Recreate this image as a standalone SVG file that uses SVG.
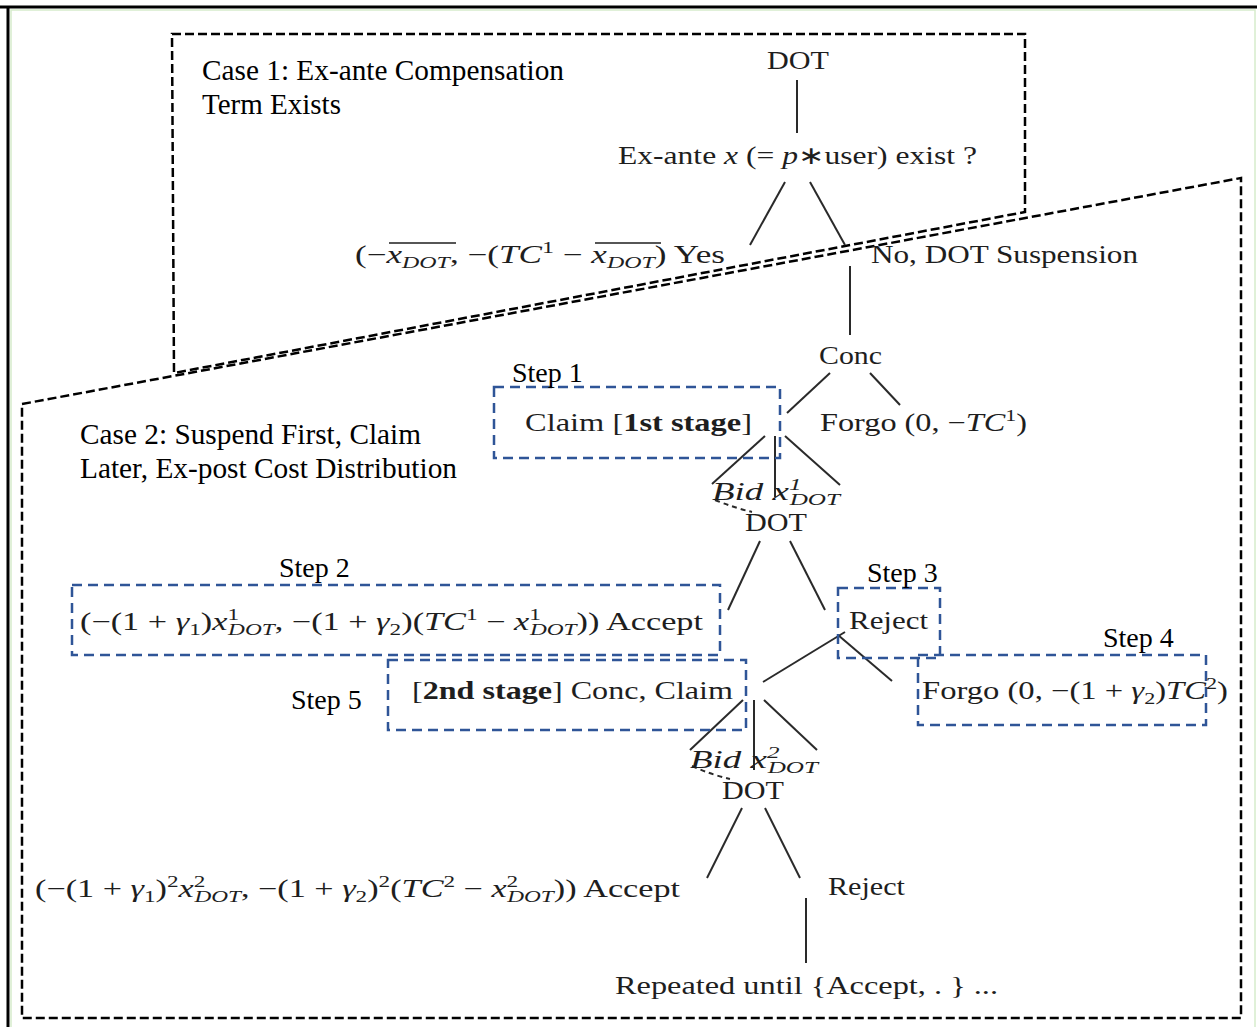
<svg xmlns="http://www.w3.org/2000/svg" width="1257" height="1027" viewBox="0 0 1257 1027">
<style>
.m{font-family:"Liberation Serif","Times New Roman",serif;font-size:25px;fill:#1e1e1e}
.it{font-style:italic}
.b{font-weight:bold}
.sub{font-size:17px}
.lbl{font-family:"Liberation Serif","Times New Roman",serif;font-size:28px;fill:#000}
.cl{font-size:29px}
.edge{stroke:#2a2a2a;stroke-width:2;fill:none}
.case{stroke:#000;stroke-width:2.5;fill:none;stroke-dasharray:9 4}
.step{stroke:#2f5597;stroke-width:2.5;fill:none;stroke-dasharray:10 6}
</style>
<rect x="0" y="0" width="1257" height="1027" fill="#fff"/>
<rect x="11" y="10" width="1244" height="1020" fill="none" stroke="#d6eccb" stroke-width="1.5"/>
<line x1="0" y1="7" x2="1257" y2="7" stroke="#000" stroke-width="3"/>
<line x1="8" y1="7" x2="8" y2="1027" stroke="#000" stroke-width="3"/>

<g id="case1">
<polygon class="case" points="172,34 1025,34 1025,212 174,373"/>
<text class="lbl cl" x="202" y="80" textLength="362" lengthAdjust="spacingAndGlyphs">Case 1: Ex-ante Compensation</text>
<text class="lbl cl" x="202" y="114">Term Exists</text>
</g>
<g id="case2">
<polygon class="case" points="22,404 1241,178 1241,1018 22,1018"/>
<text class="lbl cl" x="80" y="444" textLength="341" lengthAdjust="spacingAndGlyphs">Case 2: Suspend First, Claim</text>
<text class="lbl cl" x="80" y="478" textLength="377" lengthAdjust="spacingAndGlyphs">Later, Ex-post Cost Distribution</text>
</g>

<g id="connectors">
<line class="edge" x1="797" y1="80" x2="797" y2="133"/>
<line class="edge" x1="785" y1="182" x2="750" y2="245"/>
<line class="edge" x1="810" y1="182" x2="845" y2="245"/>
<line class="edge" x1="850" y1="266" x2="850" y2="335"/>
<line class="edge" x1="830" y1="373" x2="787" y2="413"/>
<line class="edge" x1="870" y1="373" x2="900" y2="405"/>
<line class="edge" x1="765" y1="436" x2="712" y2="484"/>
<line class="edge" x1="775" y1="436" x2="775" y2="497"/>
<line class="edge" x1="785" y1="436" x2="840" y2="485"/>
<path class="edge" d="M715,500 Q735,508 752,512" stroke-dasharray="5 4" stroke-width="1.5"/>
<line class="edge" x1="760" y1="541" x2="728" y2="610"/>
<line class="edge" x1="790" y1="541" x2="825" y2="610"/>
<line class="edge" x1="845" y1="632" x2="763" y2="682"/>
<line class="edge" x1="838" y1="635" x2="892" y2="681"/>
<line class="edge" x1="743" y1="700" x2="690" y2="750"/>
<line class="edge" x1="754" y1="700" x2="754" y2="770"/>
<line class="edge" x1="764" y1="700" x2="817" y2="750"/>
<path class="edge" d="M692,766 Q712,775 730,779" stroke-dasharray="5 4" stroke-width="1.5"/>
<line class="edge" x1="742" y1="808" x2="707" y2="878"/>
<line class="edge" x1="765" y1="808" x2="800" y2="878"/>
<line class="edge" x1="806" y1="898" x2="806" y2="963"/>
</g>

<g id="n-dot1"><text class="m" x="767" y="69" textLength="62" lengthAdjust="spacingAndGlyphs">DOT</text></g>
<g id="n-exante"><text class="m" x="618" y="164" textLength="359" lengthAdjust="spacingAndGlyphs">Ex-ante <tspan class="it">x</tspan> (= <tspan class="it">p</tspan>∗user) exist ?</text></g>
<g id="n-yes">
<text class="m" x="355" y="263" textLength="370" lengthAdjust="spacingAndGlyphs">(−<tspan class="it">x</tspan><tspan class="sub it" dy="5">DOT</tspan><tspan dy="-5">, −(</tspan><tspan class="it">TC</tspan><tspan class="sub" dy="-10">1</tspan><tspan dy="10"> − </tspan><tspan class="it">x</tspan><tspan class="sub it" dy="5">DOT</tspan><tspan dy="-5">) Yes</tspan></text>
<line x1="389" y1="243" x2="456" y2="243" stroke="#1e1e1e" stroke-width="1.6"/>
<line x1="595" y1="243" x2="661" y2="243" stroke="#1e1e1e" stroke-width="1.6"/>
</g>
<g id="n-no"><text class="m" x="871" y="263" textLength="267" lengthAdjust="spacingAndGlyphs">No, DOT Suspension</text></g>
<g id="n-conc"><text class="m" x="819" y="364" textLength="63" lengthAdjust="spacingAndGlyphs">Conc</text></g>
<g id="step1">
<rect class="step" x="494" y="387" width="286" height="71"/>
<text class="lbl" x="512" y="382">Step 1</text>
<text class="m" x="525" y="431" textLength="227" lengthAdjust="spacingAndGlyphs">Claim [<tspan class="b">1st stage</tspan>]</text>
</g>
<g id="n-forgo1"><text class="m" x="820" y="431" textLength="207" lengthAdjust="spacingAndGlyphs">Forgo (0, −<tspan class="it">TC</tspan><tspan class="sub" dy="-10">1</tspan><tspan dy="10">)</tspan></text></g>
<g id="n-bid1"><text class="m it" x="712" y="500" textLength="128" lengthAdjust="spacingAndGlyphs">Bid x<tspan class="sub" dy="-10">1</tspan><tspan class="sub" dx="-8" dy="15">DOT</tspan></text></g>
<g id="n-dot2"><text class="m" x="745" y="531" textLength="62" lengthAdjust="spacingAndGlyphs">DOT</text></g>
<g id="step2">
<rect class="step" x="72" y="585" width="648" height="70"/>
<text class="lbl" x="279" y="577">Step 2</text>
<text class="m" x="80" y="630" textLength="623" lengthAdjust="spacingAndGlyphs">(−(1 + <tspan class="it">γ</tspan><tspan class="sub" dy="5">1</tspan><tspan dy="-5">)</tspan><tspan class="it">x</tspan><tspan class="sub" dy="-10">1</tspan><tspan class="sub it" dx="-8" dy="15">DOT</tspan><tspan dy="-5">, −(1 + </tspan><tspan class="it">γ</tspan><tspan class="sub" dy="5">2</tspan><tspan dy="-5">)(</tspan><tspan class="it">TC</tspan><tspan class="sub" dy="-10">1</tspan><tspan dy="10"> − </tspan><tspan class="it">x</tspan><tspan class="sub" dy="-10">1</tspan><tspan class="sub it" dx="-8" dy="15">DOT</tspan><tspan dy="-5">)) Accept</tspan></text>
</g>
<g id="step3">
<rect class="step" x="838" y="588" width="102" height="70"/>
<text class="lbl" x="867" y="582">Step 3</text>
<text class="m" x="849" y="629" textLength="79" lengthAdjust="spacingAndGlyphs">Reject</text>
</g>
<g id="step4">
<rect class="step" x="918" y="655" width="288" height="70"/>
<text class="lbl" x="1103" y="647">Step 4</text>
<text class="m" x="922" y="699" textLength="306" lengthAdjust="spacingAndGlyphs">Forgo (0, −(1 + <tspan class="it">γ</tspan><tspan class="sub" dy="5">2</tspan><tspan dy="-5">)</tspan><tspan class="it">TC</tspan><tspan class="sub" dy="-10">2</tspan><tspan dy="10">)</tspan></text>
</g>
<g id="step5">
<rect class="step" x="388" y="660" width="358" height="70"/>
<text class="lbl" x="291" y="709">Step 5</text>
<text class="m" x="412" y="699" textLength="321" lengthAdjust="spacingAndGlyphs">[<tspan class="b">2nd stage</tspan>] Conc, Claim</text>
</g>
<g id="n-bid2"><text class="m it" x="690" y="768" textLength="128" lengthAdjust="spacingAndGlyphs">Bid x<tspan class="sub" dy="-10">2</tspan><tspan class="sub" dx="-8" dy="15">DOT</tspan></text></g>
<g id="n-dot3"><text class="m" x="722" y="799" textLength="62" lengthAdjust="spacingAndGlyphs">DOT</text></g>
<g id="n-accept2"><text class="m" x="35" y="897" textLength="645" lengthAdjust="spacingAndGlyphs">(−(1 + <tspan class="it">γ</tspan><tspan class="sub" dy="5">1</tspan><tspan dy="-5">)</tspan><tspan class="sub" dy="-10">2</tspan><tspan class="it" dy="10">x</tspan><tspan class="sub" dy="-10">2</tspan><tspan class="sub it" dx="-8" dy="15">DOT</tspan><tspan dy="-5">, −(1 + </tspan><tspan class="it">γ</tspan><tspan class="sub" dy="5">2</tspan><tspan dy="-5">)</tspan><tspan class="sub" dy="-10">2</tspan><tspan dy="10">(</tspan><tspan class="it">TC</tspan><tspan class="sub" dy="-10">2</tspan><tspan dy="10"> − </tspan><tspan class="it">x</tspan><tspan class="sub" dy="-10">2</tspan><tspan class="sub it" dx="-8" dy="15">DOT</tspan><tspan dy="-5">)) Accept</tspan></text></g>
<g id="n-reject2"><text class="m" x="828" y="895" textLength="77" lengthAdjust="spacingAndGlyphs">Reject</text></g>
<g id="n-repeat"><text class="m" x="615" y="994" textLength="383" lengthAdjust="spacingAndGlyphs">Repeated until {Accept, . } ...</text></g>
</svg>
